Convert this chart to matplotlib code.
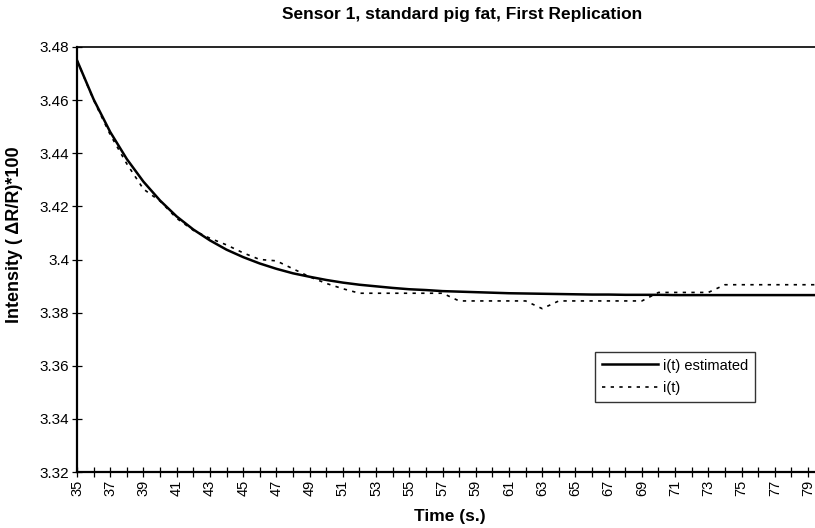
import matplotlib
matplotlib.use("Agg")
import matplotlib.pyplot as plt

plt.rcParams['font.family'] = ['Liberation Sans', 'DejaVu Sans']

time_s = list(range(35, 81))
i_estimated = [3.4750, 3.4603, 3.4480, 3.4378, 3.4293, 3.4222, 3.4162, 3.4113,
               3.4072, 3.4037, 3.4009, 3.3985, 3.3965, 3.3948, 3.3935, 3.3923,
               3.3913, 3.3905, 3.3899, 3.3893, 3.3888, 3.3885, 3.3881, 3.3879,
               3.3877, 3.3875, 3.3873, 3.3872, 3.3871, 3.3870, 3.3869, 3.3868,
               3.3868, 3.3867, 3.3867, 3.3867, 3.3866, 3.3866, 3.3866, 3.3866,
               3.3866, 3.3866, 3.3866, 3.3866, 3.3866, 3.3866]
i_measured = [3.4750, 3.4600, 3.4470, 3.4360, 3.4265, 3.4220, 3.4155, 3.4110,
              3.4080, 3.4055, 3.4025, 3.4000, 3.3995, 3.3965, 3.3935, 3.3910,
              3.3890, 3.3873, 3.3873, 3.3873, 3.3873, 3.3873, 3.3873, 3.3844,
              3.3844, 3.3844, 3.3844, 3.3844, 3.3815, 3.3844, 3.3844, 3.3844,
              3.3844, 3.3844, 3.3844, 3.3876, 3.3876, 3.3876, 3.3876, 3.3905,
              3.3905, 3.3905, 3.3905, 3.3905, 3.3905, 3.3905]

title = "Sensor 1, standard pig fat, First Replication"
x_label = "Time (s.)"
y_label = "Intensity ( \u0394R/R)*100"
legend_labels = ["i(t) estimated", "i(t)"]
y_ticks = [3.32, 3.34, 3.36, 3.38, 3.40, 3.42, 3.44, 3.46, 3.48]
y_tick_labels = ['3.32', '3.34', '3.36', '3.38', '3.4', '3.42', '3.44', '3.46', '3.48']

fig = plt.figure(figsize=(8.15, 5.28), dpi=100)
ax = fig.add_axes([77/815, 1-472/528, 1-77/815, (472-47)/528])

ax.plot(time_s, i_estimated, color='black', lw=1.8, label=legend_labels[0])
ax.plot(time_s, i_measured, color='black', lw=1.2, linestyle=(0, (2, 3.2)),
        label=legend_labels[1])

ax.set_xlim(35, 79.42)
ax.set_ylim(3.32, 3.48)
ax.set_yticks(y_ticks)
ax.set_yticklabels(y_tick_labels)
ax.set_xticks(list(range(35, 80)))
ax.set_xticklabels([str(t) if (t - 35) % 2 == 0 else '' for t in range(35, 80)],
                   rotation=90)
ax.tick_params(axis='both', direction='inout', length=7, width=0.9,
               colors='black')
ax.tick_params(axis='x', pad=2, labelsize=10.5)
ax.tick_params(axis='y', pad=2, labelsize=11)

ax.spines['right'].set_visible(False)
ax.spines['left'].set_linewidth(1.6)
ax.spines['bottom'].set_linewidth(1.6)
ax.spines['top'].set_linewidth(1.2)

ax.set_xlabel(x_label, fontsize=12.5, fontweight='bold')
ax.xaxis.set_label_coords((450-77)/738, -0.088)
ax.set_ylabel(y_label, fontsize=13, fontweight='bold')
ax.yaxis.set_label_coords(-0.073, (472-235)/425)
fig.text(462/815, 1-14/528, title, ha='center', va='center',
         fontsize=12.5, fontweight='bold')

leg = ax.legend(loc='upper left', bbox_to_anchor=((595-77)/738, (472-352)/425),
                frameon=True, fancybox=False, shadow=False, fontsize=10.5,
                handlelength=3.9, handletextpad=0.3, borderpad=0.45,
                labelspacing=0.6, borderaxespad=0)
leg.get_frame().set_edgecolor('black')
leg.get_frame().set_linewidth(1.0)

fig.savefig('out.png', dpi=100)
